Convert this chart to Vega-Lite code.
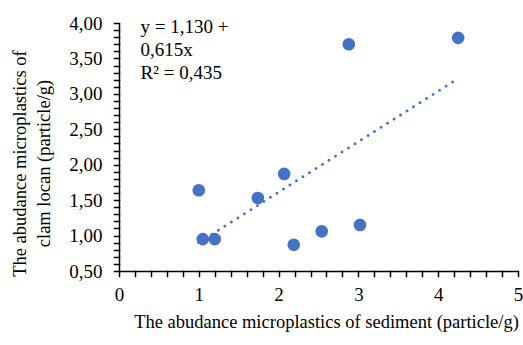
{
  "$schema": "https://vega.github.io/schema/vega-lite/v6.json",
  "width": 399,
  "height": 248,
  "autosize": {"type": "none"},
  "padding": {"left": 119, "top": 23, "right": 5, "bottom": 74},
  "background": "white",
  "config": {
    "view": {"stroke": null},
    "font": "Liberation Serif"
  },
  "datasets": {
    "points": [
      {"sediment": 1.00, "clam": 1.64},
      {"sediment": 1.05, "clam": 0.95},
      {"sediment": 1.20, "clam": 0.95},
      {"sediment": 1.74, "clam": 1.53},
      {"sediment": 2.07, "clam": 1.87},
      {"sediment": 2.19, "clam": 0.87},
      {"sediment": 2.54, "clam": 1.06},
      {"sediment": 3.02, "clam": 1.15},
      {"sediment": 2.88, "clam": 3.70},
      {"sediment": 4.25, "clam": 3.79}
    ],
    "note": [
      {"sediment": 0.27, "clam": 3.86, "label": "y = 1,130 +\n0,615x\nR² = 0,435"}
    ]
  },
  "encoding": {
    "x": {
      "field": "sediment",
      "type": "quantitative",
      "scale": {"domain": [0, 5], "nice": false, "zero": false},
      "axis": {
        "title": "The abudance microplastics of sediment (particle/g)",
        "grid": false,
        "domainColor": "#000000",
        "domainWidth": 1.5,
        "ticks": true,
        "tickColor": "#000000",
        "tickOpacity": 1,
        "tickWidth": 1.5,
        "tickSize": 5,
        "tickCap": "square",
        "values": [0, 0.2, 0.4, 0.6, 0.8, 1, 1.2, 1.4, 1.6, 1.8, 2, 2.2, 2.4, 2.6, 2.8, 3, 3.2, 3.4, 3.6, 3.8, 4, 4.2, 4.4, 4.6, 4.8, 5],
        "labelExpr": "abs(datum.value - round(datum.value)) < 0.001 ? format(datum.value, 'd') : ''",
        "labelFont": "Liberation Serif",
        "labelFontSize": 19,
        "labelColor": "#000000",
        "labelOverlap": false,
        "labelFlush": false,
        "labelBound": false,
        "labelPadding": 9,
        "titleFont": "Liberation Serif",
        "titleFontSize": 18.5,
        "titleFontWeight": "normal",
        "titleColor": "#000000",
        "titleX": 207,
        "titleY": 50,
        "titleAlign": "center",
        "titleBaseline": "middle"
      }
    },
    "y": {
      "field": "clam",
      "type": "quantitative",
      "scale": {"domain": [0.5, 4], "nice": false, "zero": false},
      "axis": {
        "title": ["The abudance microplastics of", "clam locan  (particle/g)"],
        "grid": false,
        "domainColor": "#000000",
        "domainWidth": 1.5,
        "ticks": true,
        "tickColor": "#000000",
        "tickOpacity": 1,
        "tickWidth": 1.5,
        "tickSize": 5,
        "tickCap": "square",
        "values": [0.5, 0.6, 0.7, 0.8, 0.9, 1.0, 1.1, 1.2, 1.3, 1.4, 1.5, 1.6, 1.7, 1.8, 1.9, 2.0, 2.1, 2.2, 2.3, 2.4, 2.5, 2.6, 2.7, 2.8, 2.9, 3.0, 3.1, 3.2, 3.3, 3.4, 3.5, 3.6, 3.7, 3.8, 3.9, 4.0],
        "labelExpr": "abs(datum.value * 2 - round(datum.value * 2)) < 0.001 ? replace(format(datum.value, '.2f'), '.', ',') : ''",
        "labelFont": "Liberation Serif",
        "labelFontSize": 19,
        "labelColor": "#000000",
        "labelOverlap": false,
        "labelFlush": false,
        "labelBound": false,
        "labelPadding": 12,
        "titleFont": "Liberation Serif",
        "titleFontSize": 18.5,
        "titleFontWeight": "normal",
        "titleColor": "#000000",
        "titleAngle": -90,
        "titleX": -109,
        "titleY": 140,
        "titleAlign": "center",
        "titleBaseline": "top",
        "titleLineHeight": 24
      }
    }
  },
  "layer": [
    {
      "data": {"name": "points"},
      "transform": [{"regression": "clam", "on": "sediment", "extent": [1.0, 4.2]}],
      "mark": {"type": "line", "color": "#4472C4", "strokeWidth": 2.8, "strokeCap": "round", "strokeDash": [0.1, 7.6]}
    },
    {
      "data": {"name": "points"},
      "mark": {"type": "circle", "color": "#4472C4", "opacity": 1, "size": 160}
    },
    {
      "data": {"name": "note"},
      "mark": {"type": "text", "align": "left", "baseline": "alphabetic", "font": "Liberation Serif", "fontSize": 19, "fontWeight": "normal", "lineHeight": 23, "fill": "#000000", "lineBreak": "\n"},
      "encoding": {
        "text": {"field": "label"}
      }
    }
  ]
}
